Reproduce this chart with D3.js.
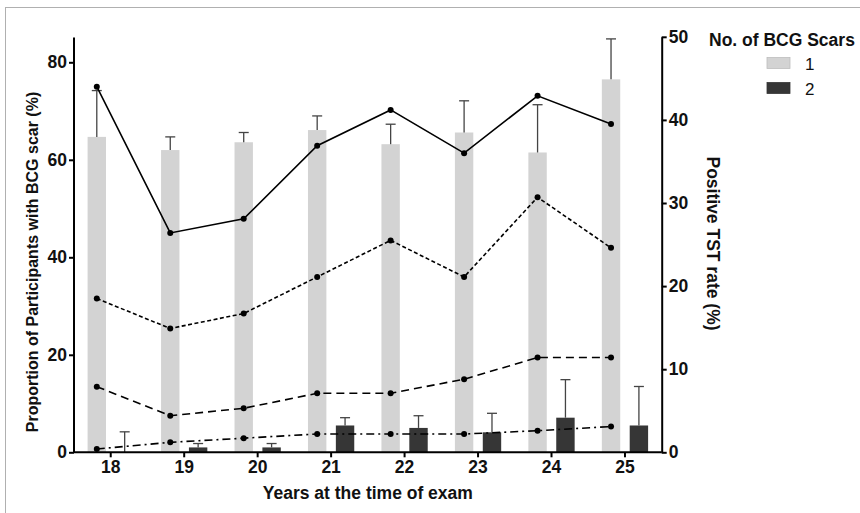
<!DOCTYPE html>
<html>
<head>
<meta charset="utf-8">
<script src="https://cdn.jsdelivr.net/npm/d3@7"></script>
<style>
  html, body { margin: 0; padding: 0; background: #fff; }
  svg { display: block; font-family: "Liberation Sans", Arial, sans-serif; }
</style>
</head>
<body>
<svg id="chart" width="860" height="513"></svg>
<script>
// Age groups on the x axis
const ages = ["18", "19", "20", "21", "22", "23", "24", "25"];

// Proportion of participants (%) by number of BCG scars, with upper error
const scar1 = [64.7, 62.0, 63.6, 66.1, 63.2, 65.6, 61.5, 76.5];
const scar1Err = [74.2, 64.7, 65.6, 69.0, 67.3, 72.1, 71.3, 84.8];
const scar2 = [0.0, 1.0, 1.0, 5.5, 5.0, 4.1, 7.1, 5.5];
const scar2Err = [4.2, 1.8, 1.8, 7.1, 7.5, 8.0, 14.9, 13.5];

// Positive TST rate (%) series, right axis
const tstSolid = [44.0, 26.4, 28.1, 36.9, 41.2, 36.0, 42.9, 39.5];
const tstShortDash = [18.5, 14.9, 16.7, 21.1, 25.5, 21.1, 30.7, 24.6];
const tstLongDash = [7.9, 4.4, 5.3, 7.1, 7.1, 8.8, 11.4, 11.4];
const tstDashDot = [0.4, 1.2, 1.7, 2.2, 2.2, 2.2, 2.6, 3.1];

const leftTicks = [0, 20, 40, 60, 80];
const rightTicks = [0, 10, 20, 30, 40, 50];
const legendLabels = ["1", "2"];

const colors = { s1: "#d3d3d3", s2: "#363636" };

const svg = d3.select("#chart");

// outer frame
svg.append("rect")
  .attr("x", 5.5).attr("y", 7.5).attr("width", 900).attr("height", 600)
  .attr("fill", "none").attr("stroke", "#b0b0b0").attr("stroke-width", 1);

const left = 74, right = 661.7, bottom = 452.3;

const x0 = d3.scaleBand().domain(ages).range([left, right]).paddingInner(0.37).paddingOuter(0.185);
const x1 = d3.scaleBand().domain(["1", "2"]).range([0, x0.bandwidth()]).paddingInner(0.34);
const xc = d3.scaleBand().domain(ages).range([left, right]);

const yL = d3.scaleLinear().domain([0, 80]).range([bottom, 62.3]);
const yR = d3.scaleLinear().domain([0, 50]).range([bottom, 36.8]);

const g = svg.append("g");

// bars
const groups = g.selectAll("g.grp").data(ages).join("g")
  .attr("transform", d => `translate(${x0(d)},0)`);

groups.append("rect")
  .attr("x", x1("1")).attr("width", x1.bandwidth())
  .attr("y", (d, i) => yL(scar1[i])).attr("height", (d, i) => bottom - yL(scar1[i]))
  .attr("fill", colors.s1);

groups.append("rect")
  .attr("x", x1("2")).attr("width", x1.bandwidth())
  .attr("y", (d, i) => yL(scar2[i])).attr("height", (d, i) => bottom - yL(scar2[i]))
  .attr("fill", colors.s2);

// error bars (upper only)
function errBars(vals, errs, key) {
  const cx = x1(key) + x1.bandwidth() / 2;
  const eg = groups.append("g").attr("stroke", "#444").attr("stroke-width", 1.3);
  eg.append("line").attr("x1", cx).attr("x2", cx)
    .attr("y1", (d, i) => yL(vals[i])).attr("y2", (d, i) => yL(errs[i]));
  eg.append("line").attr("x1", cx - 5).attr("x2", cx + 5)
    .attr("y1", (d, i) => yL(errs[i])).attr("y2", (d, i) => yL(errs[i]));
}
errBars(scar1, scar1Err, "1");
errBars(scar2, scar2Err, "2");

// TST lines, drawn at the centre of the first bar of each group
const px = d => x0(d) + x1("1") + x1.bandwidth() / 2;
const lineDefs = [
  { vals: tstSolid, dash: null },
  { vals: tstShortDash, dash: "4,2.5" },
  { vals: tstLongDash, dash: "8,5" },
  { vals: tstDashDot, dash: "8,4,2,4" }
];
lineDefs.forEach(def => {
  const line = d3.line().x((d, i) => px(ages[i])).y(d => yR(d));
  g.append("path").datum(def.vals)
    .attr("d", line).attr("fill", "none").attr("stroke", "#000")
    .attr("stroke-width", 1.6)
    .attr("stroke-dasharray", def.dash);
  g.selectAll(null).data(def.vals).join("circle")
    .attr("cx", (d, i) => px(ages[i])).attr("cy", d => yR(d))
    .attr("r", 3).attr("fill", "#000");
});

// axes
const axisStyle = sel => {
  sel.selectAll("path.domain").attr("stroke", "#000").attr("stroke-width", 2);
  sel.selectAll(".tick line").attr("stroke", "#000").attr("stroke-width", 2);
  sel.selectAll(".tick text").attr("font-size", 17.5).attr("font-weight", "bold")
    .attr("fill", "#111").attr("font-family", "Liberation Sans, Arial, sans-serif");
};

const yLAxis = svg.append("g").attr("transform", `translate(${left},0)`)
  .call(d3.axisLeft(yL).tickValues(leftTicks).tickSize(5).tickSizeOuter(0).tickPadding(2));
yLAxis.select("path.domain").attr("d", `M0,${yL(85.1)}V${bottom}`);
axisStyle(yLAxis);

const yRAxis = svg.append("g").attr("transform", `translate(${right},0)`)
  .call(d3.axisRight(yR).tickValues(rightTicks).tickSize(5).tickSizeOuter(0).tickPadding(2));
axisStyle(yRAxis);

const xAxis = svg.append("g").attr("transform", `translate(0,${bottom})`)
  .call(d3.axisBottom(xc).tickSize(5).tickSizeOuter(0).tickPadding(3));
xAxis.select("path.domain").attr("d", `M${left},0H${right}`);
axisStyle(xAxis);

// axis titles
svg.append("text")
  .attr("transform", `translate(38,262) rotate(-90)`)
  .attr("text-anchor", "middle").attr("font-size", 16).attr("font-weight", "bold")
  .attr("fill", "#111")
  .text("Proportion of Participants with BCG scar (%)");

svg.append("text")
  .attr("transform", `translate(706.5,243.5) rotate(90)`)
  .attr("text-anchor", "middle").attr("font-size", 17.5).attr("font-weight", "bold")
  .attr("fill", "#111")
  .text("Positive TST rate (%)");

svg.append("text")
  .attr("x", (left + right) / 2).attr("y", 499)
  .attr("text-anchor", "middle").attr("font-size", 17.5).attr("font-weight", "bold")
  .attr("fill", "#111")
  .text("Years at the time of exam");

// legend
const leg = svg.append("g");
leg.append("text").attr("x", 709).attr("y", 46)
  .attr("font-size", 17.5).attr("font-weight", "bold").attr("fill", "#111")
  .text("No. of BCG Scars");
const legItems = leg.selectAll("g.li").data(legendLabels).join("g")
  .attr("transform", (d, i) => `translate(767,${57.5 + i * 25})`);
legItems.append("rect").attr("width", 23).attr("height", 11)
  .attr("fill", (d, i) => i === 0 ? colors.s1 : colors.s2)
  .attr("stroke", (d, i) => i === 0 ? "#bdbdbd" : colors.s2).attr("stroke-width", 0.8);
legItems.append("text").attr("x", 38).attr("y", 12)
  .attr("font-size", 17).attr("fill", "#111").text(d => d);
</script>
</body>
</html>
